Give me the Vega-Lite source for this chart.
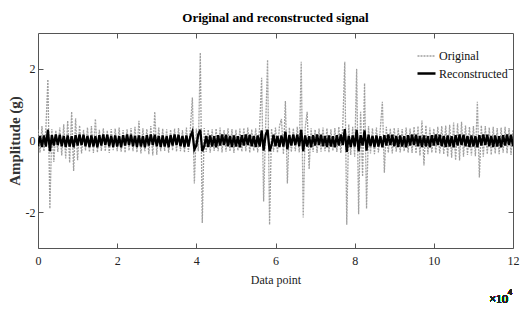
{
"$schema": "https://vega.github.io/schema/vega-lite/v6.json",
"width": 475, "height": 215,
"autosize": "none",
"padding": {"left": 38, "top": 33, "right": 10, "bottom": 72},
"background": "white",
"config": {"font": "Liberation Serif", "view": {"stroke": "#555555", "strokeWidth": 1}},
"title": {"text": "Original and reconstructed signal", "fontSize": 13, "fontWeight": "bold", "font": "Liberation Serif", "color": "#000000", "offset": 8, "anchor": "middle"},
"data": {"values": [
{"x":0,"Original":0.30,"Reconstructed":-0.16},{"x":500,"Original":-0.34,"Reconstructed":0.13},{"x":1000,"Original":0.40,"Reconstructed":-0.18},{"x":1500,"Original":-0.30,"Reconstructed":0.14},{"x":2000,"Original":0.35,"Reconstructed":-0.17},{"x":2500,"Original":1.70,"Reconstructed":0.30},{"x":3000,"Original":-1.90,"Reconstructed":-0.30},{"x":3500,"Original":0.32,"Reconstructed":0.15},{"x":4000,"Original":-0.60,"Reconstructed":-0.14},{"x":4500,"Original":0.28,"Reconstructed":0.17},
{"x":5000,"Original":-0.32,"Reconstructed":-0.13},{"x":5500,"Original":0.36,"Reconstructed":0.16},{"x":6000,"Original":-0.42,"Reconstructed":-0.16},{"x":6500,"Original":0.45,"Reconstructed":0.13},{"x":7000,"Original":-0.50,"Reconstructed":-0.18},{"x":7500,"Original":0.55,"Reconstructed":0.14},{"x":8000,"Original":-0.62,"Reconstructed":-0.17},{"x":8500,"Original":0.80,"Reconstructed":0.12},{"x":9000,"Original":-0.85,"Reconstructed":-0.19},{"x":9500,"Original":0.62,"Reconstructed":0.15},
{"x":10000,"Original":-0.55,"Reconstructed":-0.14},{"x":10500,"Original":0.42,"Reconstructed":0.17},{"x":11000,"Original":-0.36,"Reconstructed":-0.13},{"x":11500,"Original":0.30,"Reconstructed":0.16},{"x":12000,"Original":-0.28,"Reconstructed":-0.16},{"x":12500,"Original":0.36,"Reconstructed":0.13},{"x":13000,"Original":-0.32,"Reconstructed":-0.18},{"x":13500,"Original":0.40,"Reconstructed":0.14},{"x":14000,"Original":-0.35,"Reconstructed":-0.17},{"x":14500,"Original":0.60,"Reconstructed":0.12},
{"x":15000,"Original":-0.33,"Reconstructed":-0.19},{"x":15500,"Original":0.30,"Reconstructed":0.15},{"x":16000,"Original":-0.29,"Reconstructed":-0.14},{"x":16500,"Original":0.34,"Reconstructed":0.17},{"x":17000,"Original":-0.30,"Reconstructed":-0.13},{"x":17500,"Original":0.28,"Reconstructed":0.16},{"x":18000,"Original":-0.35,"Reconstructed":-0.16},{"x":18500,"Original":0.32,"Reconstructed":0.13},{"x":19000,"Original":-0.27,"Reconstructed":-0.18},{"x":19500,"Original":0.33,"Reconstructed":0.14},
{"x":20000,"Original":-0.30,"Reconstructed":-0.17},{"x":20500,"Original":0.36,"Reconstructed":0.12},{"x":21000,"Original":-0.31,"Reconstructed":-0.19},{"x":21500,"Original":0.29,"Reconstructed":0.15},{"x":22000,"Original":-0.34,"Reconstructed":-0.14},{"x":22500,"Original":0.31,"Reconstructed":0.17},{"x":23000,"Original":-0.28,"Reconstructed":-0.13},{"x":23500,"Original":0.35,"Reconstructed":0.16},{"x":24000,"Original":-0.30,"Reconstructed":-0.16},{"x":24500,"Original":0.38,"Reconstructed":0.13},
{"x":25000,"Original":-0.33,"Reconstructed":-0.18},{"x":25500,"Original":0.55,"Reconstructed":0.14},{"x":26000,"Original":-0.36,"Reconstructed":-0.17},{"x":26500,"Original":0.34,"Reconstructed":0.12},{"x":27000,"Original":-0.30,"Reconstructed":-0.19},{"x":27500,"Original":0.32,"Reconstructed":0.15},{"x":28000,"Original":-0.38,"Reconstructed":-0.14},{"x":28500,"Original":0.40,"Reconstructed":0.17},{"x":29000,"Original":-0.42,"Reconstructed":-0.13},{"x":29500,"Original":0.80,"Reconstructed":0.16},
{"x":30000,"Original":-0.40,"Reconstructed":-0.16},{"x":30500,"Original":0.36,"Reconstructed":0.13},{"x":31000,"Original":-0.30,"Reconstructed":-0.18},{"x":31500,"Original":0.33,"Reconstructed":0.14},{"x":32000,"Original":-0.29,"Reconstructed":-0.17},{"x":32500,"Original":0.31,"Reconstructed":0.12},{"x":33000,"Original":-0.34,"Reconstructed":-0.19},{"x":33500,"Original":0.30,"Reconstructed":0.15},{"x":34000,"Original":-0.28,"Reconstructed":-0.14},{"x":34500,"Original":0.33,"Reconstructed":0.17},
{"x":35000,"Original":-0.31,"Reconstructed":-0.13},{"x":35500,"Original":0.35,"Reconstructed":0.16},{"x":36000,"Original":-0.30,"Reconstructed":-0.16},{"x":36500,"Original":0.29,"Reconstructed":0.13},{"x":37000,"Original":-0.33,"Reconstructed":-0.18},{"x":37500,"Original":0.36,"Reconstructed":0.14},{"x":38000,"Original":-0.32,"Reconstructed":-0.17},{"x":38500,"Original":0.34,"Reconstructed":0.12},{"x":39000,"Original":1.20,"Reconstructed":0.25},{"x":39500,"Original":-1.20,"Reconstructed":-0.25},
{"x":40000,"Original":0.33,"Reconstructed":-0.14},{"x":40500,"Original":-0.30,"Reconstructed":0.17},{"x":41000,"Original":2.45,"Reconstructed":0.30},{"x":41500,"Original":-2.30,"Reconstructed":-0.30},{"x":42000,"Original":0.35,"Reconstructed":-0.16},{"x":42500,"Original":-0.32,"Reconstructed":0.13},{"x":43000,"Original":0.30,"Reconstructed":-0.18},{"x":43500,"Original":-0.34,"Reconstructed":0.14},{"x":44000,"Original":0.31,"Reconstructed":-0.17},{"x":44500,"Original":-0.29,"Reconstructed":0.12},
{"x":45000,"Original":0.33,"Reconstructed":-0.19},{"x":45500,"Original":-0.30,"Reconstructed":0.15},{"x":46000,"Original":0.36,"Reconstructed":-0.14},{"x":46500,"Original":-0.33,"Reconstructed":0.17},{"x":47000,"Original":0.29,"Reconstructed":-0.13},{"x":47500,"Original":-0.31,"Reconstructed":0.16},{"x":48000,"Original":0.34,"Reconstructed":-0.16},{"x":48500,"Original":-0.30,"Reconstructed":0.13},{"x":49000,"Original":0.32,"Reconstructed":-0.18},{"x":49500,"Original":-0.35,"Reconstructed":0.14},
{"x":50000,"Original":0.30,"Reconstructed":-0.17},{"x":50500,"Original":-0.28,"Reconstructed":0.12},{"x":51000,"Original":0.33,"Reconstructed":-0.19},{"x":51500,"Original":-0.31,"Reconstructed":0.15},{"x":52000,"Original":0.35,"Reconstructed":-0.14},{"x":52500,"Original":-0.30,"Reconstructed":0.17},{"x":53000,"Original":0.36,"Reconstructed":-0.13},{"x":53500,"Original":-0.34,"Reconstructed":0.16},{"x":54000,"Original":0.31,"Reconstructed":-0.16},{"x":54500,"Original":-0.29,"Reconstructed":0.13},
{"x":55000,"Original":0.34,"Reconstructed":-0.18},{"x":55500,"Original":-0.33,"Reconstructed":0.14},{"x":56000,"Original":0.40,"Reconstructed":-0.17},{"x":56500,"Original":1.75,"Reconstructed":0.28},{"x":57000,"Original":-1.70,"Reconstructed":-0.28},{"x":57500,"Original":0.36,"Reconstructed":0.15},{"x":58000,"Original":2.25,"Reconstructed":0.30},{"x":58500,"Original":-2.35,"Reconstructed":-0.30},{"x":59000,"Original":0.33,"Reconstructed":-0.13},{"x":59500,"Original":-0.31,"Reconstructed":0.16},
{"x":60000,"Original":0.36,"Reconstructed":-0.16},{"x":60500,"Original":-0.34,"Reconstructed":0.13},{"x":61000,"Original":0.40,"Reconstructed":-0.18},{"x":61500,"Original":0.60,"Reconstructed":0.14},{"x":62000,"Original":-0.38,"Reconstructed":-0.17},{"x":62500,"Original":1.10,"Reconstructed":0.25},{"x":63000,"Original":-1.20,"Reconstructed":-0.25},{"x":63500,"Original":0.36,"Reconstructed":0.15},{"x":64000,"Original":-0.32,"Reconstructed":-0.14},{"x":64500,"Original":0.34,"Reconstructed":0.17},
{"x":65000,"Original":-0.30,"Reconstructed":-0.13},{"x":65500,"Original":0.38,"Reconstructed":0.16},{"x":66000,"Original":-0.33,"Reconstructed":-0.16},{"x":66500,"Original":2.20,"Reconstructed":0.30},{"x":67000,"Original":-2.15,"Reconstructed":-0.30},{"x":67500,"Original":0.35,"Reconstructed":0.14},{"x":68000,"Original":0.80,"Reconstructed":-0.17},{"x":68500,"Original":-0.80,"Reconstructed":0.12},{"x":69000,"Original":0.34,"Reconstructed":-0.19},{"x":69500,"Original":-0.32,"Reconstructed":0.15},
{"x":70000,"Original":0.30,"Reconstructed":-0.14},{"x":70500,"Original":-0.35,"Reconstructed":0.17},{"x":71000,"Original":0.33,"Reconstructed":-0.13},{"x":71500,"Original":-0.31,"Reconstructed":0.16},{"x":72000,"Original":0.36,"Reconstructed":-0.16},{"x":72500,"Original":-0.30,"Reconstructed":0.13},{"x":73000,"Original":0.34,"Reconstructed":-0.18},{"x":73500,"Original":-0.33,"Reconstructed":0.14},{"x":74000,"Original":0.31,"Reconstructed":-0.17},{"x":74500,"Original":-0.29,"Reconstructed":0.12},
{"x":75000,"Original":0.35,"Reconstructed":-0.19},{"x":75500,"Original":-0.32,"Reconstructed":0.15},{"x":76000,"Original":0.38,"Reconstructed":-0.14},{"x":76500,"Original":-0.35,"Reconstructed":0.17},{"x":77000,"Original":0.42,"Reconstructed":-0.13},{"x":77500,"Original":2.20,"Reconstructed":0.32},{"x":78000,"Original":-2.35,"Reconstructed":-0.32},{"x":78500,"Original":0.45,"Reconstructed":0.13},{"x":79000,"Original":-0.40,"Reconstructed":-0.18},{"x":79500,"Original":0.38,"Reconstructed":0.14},
{"x":80000,"Original":-0.45,"Reconstructed":-0.17},{"x":80500,"Original":2.00,"Reconstructed":0.30},{"x":81000,"Original":-2.06,"Reconstructed":-0.30},{"x":81500,"Original":0.80,"Reconstructed":0.15},{"x":82000,"Original":-1.00,"Reconstructed":-0.14},{"x":82500,"Original":1.60,"Reconstructed":0.28},{"x":83000,"Original":-1.90,"Reconstructed":-0.28},{"x":83500,"Original":0.40,"Reconstructed":0.16},{"x":84000,"Original":-0.36,"Reconstructed":-0.16},{"x":84500,"Original":0.34,"Reconstructed":0.13},
{"x":85000,"Original":-0.38,"Reconstructed":-0.18},{"x":85500,"Original":0.36,"Reconstructed":0.14},{"x":86000,"Original":-0.33,"Reconstructed":-0.17},{"x":86500,"Original":0.35,"Reconstructed":0.12},{"x":87000,"Original":1.08,"Reconstructed":-0.19},{"x":87500,"Original":-0.90,"Reconstructed":0.15},{"x":88000,"Original":0.38,"Reconstructed":-0.14},{"x":88500,"Original":-0.34,"Reconstructed":0.17},{"x":89000,"Original":0.33,"Reconstructed":-0.13},{"x":89500,"Original":-0.36,"Reconstructed":0.16},
{"x":90000,"Original":0.35,"Reconstructed":-0.16},{"x":90500,"Original":-0.31,"Reconstructed":0.13},{"x":91000,"Original":0.34,"Reconstructed":-0.18},{"x":91500,"Original":-0.33,"Reconstructed":0.14},{"x":92000,"Original":0.32,"Reconstructed":-0.17},{"x":92500,"Original":-0.30,"Reconstructed":0.12},{"x":93000,"Original":0.36,"Reconstructed":-0.19},{"x":93500,"Original":-0.34,"Reconstructed":0.15},{"x":94000,"Original":0.33,"Reconstructed":-0.14},{"x":94500,"Original":-0.35,"Reconstructed":0.17},
{"x":95000,"Original":0.38,"Reconstructed":-0.13},{"x":95500,"Original":-0.36,"Reconstructed":0.16},{"x":96000,"Original":0.40,"Reconstructed":-0.16},{"x":96500,"Original":-0.42,"Reconstructed":0.13},{"x":97000,"Original":0.56,"Reconstructed":-0.18},{"x":97500,"Original":-0.70,"Reconstructed":0.14},{"x":98000,"Original":0.42,"Reconstructed":-0.17},{"x":98500,"Original":-0.38,"Reconstructed":0.12},{"x":99000,"Original":0.36,"Reconstructed":-0.19},{"x":99500,"Original":-0.34,"Reconstructed":0.15},
{"x":100000,"Original":0.33,"Reconstructed":-0.14},{"x":100500,"Original":-0.35,"Reconstructed":0.17},{"x":101000,"Original":0.38,"Reconstructed":-0.13},{"x":101500,"Original":-0.36,"Reconstructed":0.16},{"x":102000,"Original":0.40,"Reconstructed":-0.16},{"x":102500,"Original":-0.38,"Reconstructed":0.13},{"x":103000,"Original":0.42,"Reconstructed":-0.18},{"x":103500,"Original":-0.45,"Reconstructed":0.14},{"x":104000,"Original":0.44,"Reconstructed":-0.17},{"x":104500,"Original":-0.48,"Reconstructed":0.12},
{"x":105000,"Original":0.50,"Reconstructed":-0.19},{"x":105500,"Original":-0.55,"Reconstructed":0.15},{"x":106000,"Original":0.48,"Reconstructed":-0.14},{"x":106500,"Original":-0.56,"Reconstructed":0.17},{"x":107000,"Original":0.52,"Reconstructed":-0.13},{"x":107500,"Original":-0.45,"Reconstructed":0.16},{"x":108000,"Original":0.42,"Reconstructed":-0.16},{"x":108500,"Original":-0.40,"Reconstructed":0.13},{"x":109000,"Original":0.38,"Reconstructed":-0.18},{"x":109500,"Original":-0.42,"Reconstructed":0.14},
{"x":110000,"Original":0.40,"Reconstructed":-0.17},{"x":110500,"Original":-0.44,"Reconstructed":0.12},{"x":111000,"Original":1.08,"Reconstructed":-0.19},{"x":111500,"Original":-1.03,"Reconstructed":0.15},{"x":112000,"Original":0.42,"Reconstructed":-0.14},{"x":112500,"Original":-0.45,"Reconstructed":0.17},{"x":113000,"Original":0.40,"Reconstructed":-0.13},{"x":113500,"Original":-0.38,"Reconstructed":0.16},{"x":114000,"Original":0.36,"Reconstructed":-0.16},{"x":114500,"Original":-0.40,"Reconstructed":0.13},
{"x":115000,"Original":0.38,"Reconstructed":-0.18},{"x":115500,"Original":-0.36,"Reconstructed":0.14},{"x":116000,"Original":0.35,"Reconstructed":-0.17},{"x":116500,"Original":-0.38,"Reconstructed":0.12},{"x":117000,"Original":0.36,"Reconstructed":-0.19},{"x":117500,"Original":-0.34,"Reconstructed":0.15},{"x":118000,"Original":0.38,"Reconstructed":-0.14},{"x":118500,"Original":-0.36,"Reconstructed":0.17},{"x":119000,"Original":0.35,"Reconstructed":-0.13},{"x":119500,"Original":-0.40,"Reconstructed":0.16},
{"x":120000,"Original":0.30,"Reconstructed":-0.16}
]},
"layer": [
{
"transform": [{"fold": ["Original", "Reconstructed"], "as": ["series", "value"]}],
"mark": {"type": "line", "clip": true},
"encoding": {
"x": {"field": "x", "type": "quantitative", "scale": {"domain": [0, 120000], "nice": false},
"axis": {"values": [0, 20000, 40000, 60000, 80000, 100000, 120000], "labelExpr": "'' + datum.value / 10000", "title": "Data point", "tickSize": -5, "tickColor": "#555555", "domain": false, "grid": false, "labelPadding": 12, "labelFontSize": 12, "labelColor": "#222222", "titleFontSize": 12, "titleFontWeight": "normal", "titleColor": "#222222", "titlePadding": 8, "labelFlush": false}},
"y": {"field": "value", "type": "quantitative", "scale": {"domain": [-3, 3], "nice": false},
"axis": {"values": [-2, 0, 2], "labelExpr": "'' + datum.value", "title": "Amplitude (g)", "tickSize": -5, "tickColor": "#555555", "domain": false, "grid": false, "labelPadding": 8, "labelFontSize": 12, "labelColor": "#222222", "titleFontSize": 15, "titleFontWeight": "bold", "titleColor": "#333333", "titlePadding": 3}},
"color": {"field": "series", "type": "nominal", "scale": {"domain": ["Original", "Reconstructed"], "range": ["#a0a0a0", "#000000"]},
"legend": {"title": null, "orient": "none", "legendX": 378, "legendY": 13, "symbolType": "stroke", "symbolSize": 324, "labelFontSize": 12, "labelColor": "#111111", "labelOffset": 2, "rowPadding": 1, "padding": 0}},
"strokeDash": {"field": "series", "type": "nominal", "scale": {"domain": ["Original", "Reconstructed"], "range": [[2, 1], [1, 0]]},
"legend": {"title": null, "orient": "none", "legendX": 378, "legendY": 13, "symbolType": "stroke", "symbolSize": 324, "labelFontSize": 12, "labelColor": "#111111", "labelOffset": 2, "rowPadding": 1, "padding": 0}},
"strokeWidth": {"field": "series", "type": "nominal", "scale": {"domain": ["Original", "Reconstructed"], "range": [1.3, 2.3]},
"legend": {"title": null, "orient": "none", "legendX": 378, "legendY": 13, "symbolType": "stroke", "symbolSize": 324, "labelFontSize": 12, "labelColor": "#111111", "labelOffset": 2, "rowPadding": 1, "padding": 0}}
}
},
{
"mark": {"type": "text", "text": "×10", "align": "right", "baseline": "top", "dx": -5, "dy": 46, "fontSize": 12, "fontWeight": "normal", "font": "Liberation Serif", "color": "#222222"},
"encoding": {
"x": {"datum": 120000, "type": "quantitative", "scale": {"domain": [0, 120000], "nice": false},
"axis": {"orient": "top", "values": [20000, 40000, 60000, 80000, 100000], "labels": false, "title": null, "tickSize": -5, "tickColor": "#555555", "domain": false, "grid": false}},
"y": {"datum": -3, "type": "quantitative", "scale": {"domain": [-3, 3], "nice": false},
"axis": {"orient": "right", "values": [-2, 0, 2], "labels": false, "title": null, "tickSize": -5, "tickColor": "#555555", "domain": false, "grid": false}}
}
},
{
"mark": {"type": "text", "text": "4", "align": "left", "baseline": "top", "dx": -5, "dy": 41, "fontSize": 8, "fontWeight": "normal", "font": "Liberation Serif", "color": "#222222"},
"encoding": {
"x": {"datum": 120000, "type": "quantitative", "scale": {"domain": [0, 120000], "nice": false}, "axis": null},
"y": {"datum": -3, "type": "quantitative", "scale": {"domain": [-3, 3], "nice": false}, "axis": null}
}
}
],
"resolve": {"axis": {"x": "independent", "y": "independent"}}
}
